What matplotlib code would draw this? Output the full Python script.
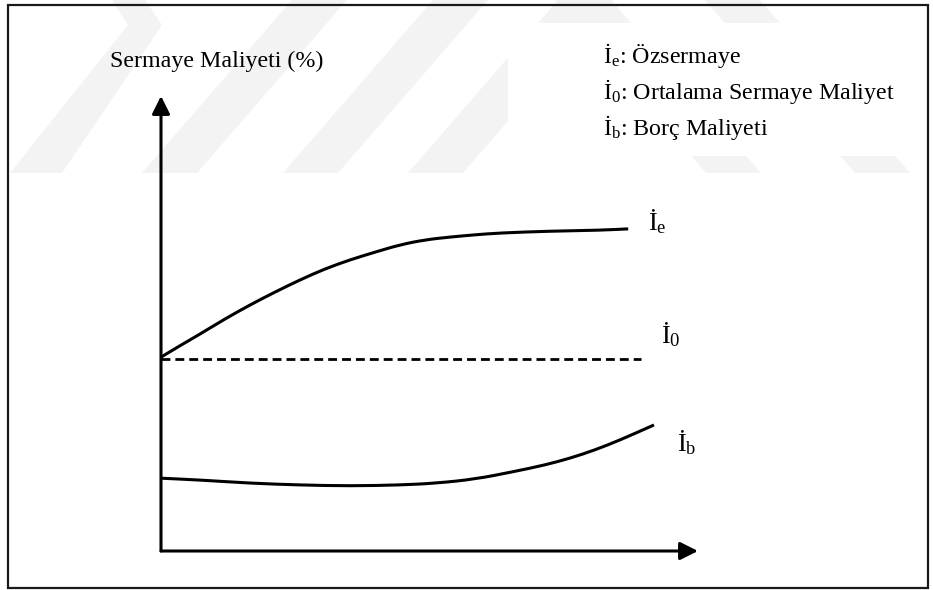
import matplotlib
matplotlib.use('Agg')
import matplotlib.pyplot as plt
from matplotlib.patches import Polygon, Rectangle, PathPatch
from matplotlib.path import Path

plt.rcParams['font.family'] = ['Liberation Serif', 'DejaVu Serif']
plt.rcParams['mathtext.fontset'] = 'custom'
plt.rcParams['mathtext.rm'] = 'Liberation Serif'
plt.rcParams['mathtext.it'] = 'Liberation Serif:italic'

# ---- data (arbitrary units 0..100) ----
ie_x = [0, 3.5, 7.3, 11.9, 16.6, 21.2, 25.9, 30.5, 35.2, 39.9, 44.5, 49.2, 53.8, 58.5, 63.1, 72.4, 81.8, 87.0]
ie_y = [42.6, 45.1, 47.7, 51.0, 54.1, 56.9, 59.6, 62.0, 64.0, 65.7, 67.3, 68.4, 69.0, 69.5, 69.9, 70.3, 70.5, 70.8]

ib_x = [0, 7.3, 16.6, 25.9, 35.2, 44.5, 51.2, 58.5, 65.5, 71.5, 76.2, 80.8, 85.5, 91.8]
ib_y = [16.0, 15.6, 14.9, 14.5, 14.3, 14.5, 14.9, 15.8, 17.4, 18.9, 20.4, 22.2, 24.4, 27.7]

i0_x = [0, 89.4]
i0_y = [42.2, 42.2]

curve_labels = ['İ$_\\mathrm{e}$', 'İ$_\\mathrm{0}$', 'İ$_\\mathrm{b}$']
label_x = [90.7, 93.1, 96.1]
label_y = [70.5, 45.7, 21.8]

y_title = 'Sermaye Maliyeti (%)'
legend_lines = ['İ$_\\mathrm{e}$: Özsermaye',
                'İ$_\\mathrm{0}$: Ortalama Sermaye Maliyet',
                'İ$_\\mathrm{b}$: Borç Maliyeti']

W, H = 933, 590
fig = plt.figure(figsize=(W / 100, H / 100), dpi=100)

# background layer in pixel coordinates (watermark, frame)
bg = fig.add_axes([0, 0, 1, 1])
bg.set_xlim(0, W)
bg.set_ylim(H, 0)
bg.axis('off')

wm = '#f3f3f3'
# "/" stripes
for bx in [142, 283, 408]:
    bg.add_patch(Polygon([(bx, 173), (bx + 55, 173), (bx + 205, 0), (bx + 150, 0)],
                         closed=True, fc=wm, ec='none'))
# chevron on the left
bg.add_patch(Polygon([(10, 173), (62, 173), (162, 25), (145, 0), (112, 0), (128, 25)],
                     closed=True, fc=wm, ec='none'))
# "\" stripes on the right
for tx in [556, 705]:
    bg.add_patch(Polygon([(tx, 0), (tx + 55, 0), (tx + 205, 173), (tx + 150, 173)],
                         closed=True, fc=wm, ec='none'))
# white box behind the key
bg.add_patch(Rectangle((508, 23), 425, 133, fc='white', ec='none'))
# outer frame
bg.add_patch(Rectangle((8, 5), 920, 583, fill=False, lw=1.6, ec='#1a1a1a'))

# main diagram axes
ax = fig.add_axes([161 / W, 39 / H, 537 / W, 455 / H])
ax.set_xlim(0, 100)
ax.set_ylim(0, 100)
ax.axis('off')
ax.patch.set_alpha(0)

arrow = dict(arrowstyle='-|>,head_length=0.4,head_width=0.2', lw=2.2, color='black',
             shrinkA=0, shrinkB=0, mutation_scale=27)
ax.annotate('', xy=(0, 100), xytext=(0, 0), arrowprops=arrow)
ax.annotate('', xy=(100, 0), xytext=(0, 0), arrowprops=arrow)


def smooth_path(xs, ys):
    # quadratic b-spline through the read points, drawn by matplotlib's bezier path
    pts = list(zip(xs, ys))
    verts = [pts[0]]
    codes = [Path.MOVETO]
    mid = ((pts[0][0] + pts[1][0]) / 2, (pts[0][1] + pts[1][1]) / 2)
    verts.append(mid)
    codes.append(Path.LINETO)
    for i in range(1, len(pts) - 1):
        nxt = ((pts[i][0] + pts[i + 1][0]) / 2, (pts[i][1] + pts[i + 1][1]) / 2)
        verts += [pts[i], nxt]
        codes += [Path.CURVE3, Path.CURVE3]
    verts.append(pts[-1])
    codes.append(Path.LINETO)
    return Path(verts, codes)


for xs, ys in [(ie_x, ie_y), (ib_x, ib_y)]:
    ax.add_patch(PathPatch(smooth_path(xs, ys), fill=False, lw=2.2, ec='black',
                           capstyle='butt', clip_on=False))
ax.plot(i0_x, i0_y, color='black', lw=2.0, ls=(0, (3.2, 1.8)), clip_on=False)

for lab, lx, ly in zip(curve_labels, label_x, label_y):
    ax.text(lx, ly, lab, fontsize=19, va='baseline', ha='left')

fig.text(110 / W, 1 - 67 / H, y_title, fontsize=17.3, va='baseline', ha='left')
for k, line in enumerate(legend_lines):
    fig.text(603 / W, 1 - (63 + 36 * k) / H, line, fontsize=17.3, va='baseline', ha='left')

fig.savefig('out.png', dpi=100)
